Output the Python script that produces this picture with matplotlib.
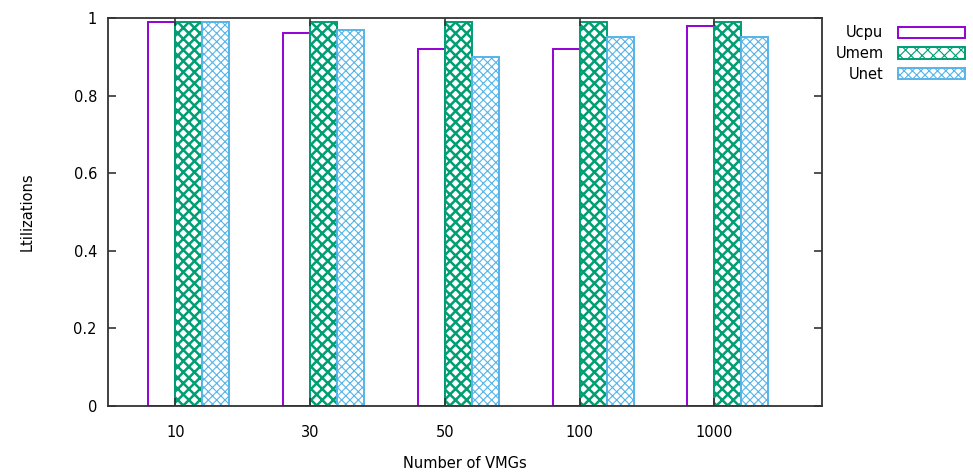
import numpy as np
import matplotlib
matplotlib.use('Agg')
import matplotlib.pyplot as plt

categories = ['10', '30', '50', '100', '1000']
ucpu = [0.99, 0.96, 0.92, 0.92, 0.98]
umem = [0.99, 0.99, 0.99, 0.99, 0.99]
unet = [0.99, 0.97, 0.90, 0.95, 0.95]

purple = '#9400d3'
green = '#009e73'
blue = '#56b4e9'

plt.rcParams['font.family'] = ['DejaVu Sans']
fig = plt.figure(figsize=(9.73, 4.73), dpi=100)
ax = fig.add_axes([0.111, 0.1416, 0.734, 0.8204])

x = np.arange(len(categories)) * 5.0

ax.bar(x - 0.5, ucpu, width=1.0, facecolor='white', edgecolor=purple,
       linewidth=1.4, label='Ucpu')
plt.rcParams['hatch.linewidth'] = 1.8
plt.rcParams['hatch.color'] = green
ax.bar(x + 0.5, umem, width=1.0, facecolor='white', edgecolor=green,
       hatch='xxx', linewidth=1.4, label='Umem')
plt.rcParams['hatch.linewidth'] = 0.8
plt.rcParams['hatch.color'] = blue
ax.bar(x + 1.5, unet, width=1.0, facecolor='white', edgecolor=blue,
       hatch='xxxx', linewidth=1.4, label='Unet')

ax.set_xlim(-2.5, 24)
ax.set_ylim(0, 1)
ax.set_xticks(x)
ax.set_xticklabels(categories)
ax.set_yticks([0, 0.2, 0.4, 0.6, 0.8, 1.0])
ax.set_yticklabels(['0', '0.2', '0.4', '0.6', '0.8', '1'])
ax.tick_params(direction='in', top=True, right=True, length=6, width=1.2,
               labelsize=10.5, colors='#333333', labelcolor='black')
ax.tick_params(axis='x', pad=14)
ax.tick_params(axis='y', pad=8)
for s in ax.spines.values():
    s.set_linewidth(1.3)
    s.set_color('#333333')

ax.set_xlabel('Number of VMGs', fontsize=10.5, labelpad=11)
ax.set_ylabel('Ltilizations', fontsize=10.5, labelpad=28)

leg = ax.legend(loc='upper left', bbox_to_anchor=(1.0, 1.015), frameon=False,
                markerfirst=False, fontsize=10.5, handlelength=4.6,
                handleheight=0.8, labelspacing=0.4, handletextpad=1.0)

fig.savefig('out.png', dpi=100)
